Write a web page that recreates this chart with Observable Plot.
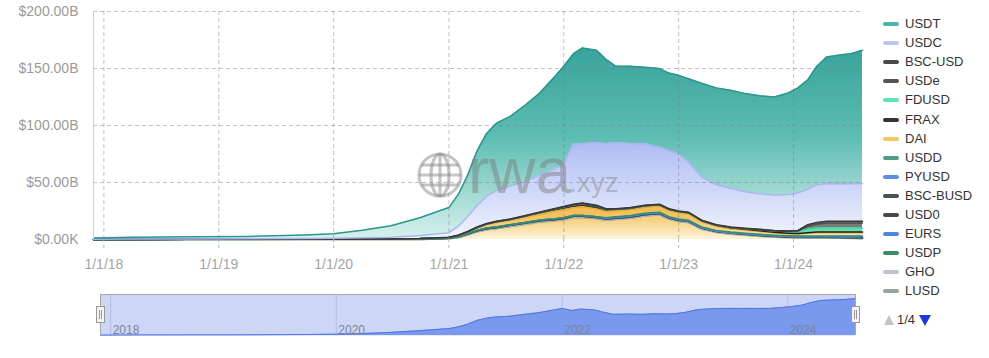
<!DOCTYPE html>
<html>
<head>
<meta charset="utf-8">
<script src="https://cdn.jsdelivr.net/npm/d3@7"></script>
<script src="https://cdn.jsdelivr.net/npm/@observablehq/plot@0.6"></script>
<style>
  html,body{margin:0;padding:0;background:#fff;}
  #wrap{position:relative;width:989px;height:358px;overflow:hidden;font-family:"Liberation Sans",Arial,Helvetica,sans-serif;}
  #main{position:absolute;left:0;top:0;}
  #nav{position:absolute;left:0;top:288px;}
  #wm{position:absolute;left:0;top:0;pointer-events:none;}
  .item{position:absolute;left:883px;height:16px;font-size:13px;color:#333;line-height:16px;white-space:nowrap;}
  .sym{position:absolute;left:0;top:6px;width:16px;height:4px;border-radius:2px;}
  .lab{position:absolute;left:22px;top:0;}
  .handle{position:absolute;}
  #pager{position:absolute;left:884px;top:312px;height:16px;font-size:13px;color:#333;line-height:16px;}
  .up{position:absolute;left:0;top:3px;width:0;height:0;border-left:5px solid transparent;border-right:5px solid transparent;border-bottom:10px solid #c4c4c4;}
  .pg{position:absolute;left:13px;top:0;}
  .down{position:absolute;left:35px;top:3px;width:0;height:0;border-left:6px solid transparent;border-right:6px solid transparent;border-top:11px solid #1b3ad6;}
</style>
</head>
<body>
<svg width="0" height="0" style="position:absolute"><defs id="defs"></defs></svg>
<div id="wrap">
  <div id="main"></div>
  <div id="nav"></div>
  <svg id="wm" width="989" height="358"></svg>
  <div id="legend"></div>
</div>
<script>
// ---------------- data (values in billions of USD) ----------------
const dates = ["2017-11-29","2018-04-01","2018-10-01","2019-04-01","2019-10-01","2020-01-01","2020-04-01","2020-07-01","2020-10-01",
  "2021-01-01","2021-02-01","2021-03-01","2021-04-01","2021-05-01","2021-06-01","2021-07-15","2021-09-01","2021-10-15","2021-12-01",
  "2022-01-01","2022-02-01","2022-03-01","2022-04-15","2022-05-15","2022-06-15","2022-08-01","2022-09-15","2022-11-01","2022-12-01",
  "2023-01-01","2023-02-01","2023-03-15","2023-05-01","2023-06-15","2023-08-01","2023-09-15","2023-11-01","2023-12-15",
  "2024-01-15","2024-02-15","2024-03-15","2024-04-15","2024-06-01","2024-07-01","2024-08-07"];

const usdt = [1.0,1.6,1.8,2.0,3.2,4.0,6.5,10,15.5,22,28,36,48,55,59,61,67,72,80,86,79,84,81,74,67,68,67,69,68,69,73,82,85,86,86,86,86,89,92,96,104,111,113,114,117];
const usdc = [0.2,0.3,0.4,0.5,0.6,0.8,1.2,1.6,2.7,4,8,13,19,24,27,29,30,32,35,37,53,52,55,57,58,56,54,50,51,50,44,38,35,34,32,31,31,32,33,31,33,33,33,33,33];
const bscUsd = [0,0,0,0,0,0,0,0,0,0.2,0.5,0.5,0.5,0.5,0.5,0.5,0.5,0.5,0.5,0.5,0.5,0.5,0.5,0.5,0.5,0.5,0.5,0.5,0.5,0.5,0.5,0.5,0.5,0.5,0.5,0.5,0.5,0.5,0.5,1.5,1.5,1.5,1.5,1.5,1.5];
const usde = [0,0,0,0,0,0,0,0,0,0,0,0,0,0,0,0,0,0,0,0,0,0,0,0,0,0,0,0,0,0,0,0,0,0,0,0,0,0,0,2.5,3.5,4.5,4.5,4.5,4.5];
const fdusd = [0,0,0,0,0,0,0,0,0,0,0,0,0,0,0,0,0,0,0,0,0,0,0,0,0,0,0,0,0,0,0,0,0,0.3,0.5,0.8,1.2,1.5,2.3,3.0,3.5,3.5,3.5,3.5,3.5];
const frax = [0,0,0,0,0,0,0,0,0,0.1,0.2,0.3,0.4,0.5,0.6,0.7,1.0,1.5,2.0,2.4,2.6,2.8,2.8,2.0,1.5,1.4,1.4,1.2,1.1,1.0,1.0,1.0,1.0,0.9,0.8,0.7,0.7,0.6,0.6,0.6,0.6,0.6,0.6,0.6,0.6];
const dai = [0,0,0,0,0.05,0.05,0.07,0.1,0.4,0.5,0.8,1.2,2.1,3.0,3.9,3.8,4.5,5.0,6.5,7.1,6.9,7.7,6.7,5.5,5.0,5.1,5.1,5.3,5.4,5.5,5.5,4.5,3.5,2.8,2.7,2.5,1.8,1.7,1.6,2.4,2.9,2.9,2.9,2.9,2.9];
const usdd = [0,0,0,0,0,0,0,0,0,0,0,0,0,0,0,0,0,0,0,0,0,0,0,0.5,0.7,0.7,0.7,0.7,0.7,0.7,0.7,0.7,0.7,0.7,0.7,0.7,0.7,0.7,0.7,0.7,0.7,0.7,0.7,0.7,0.7];
const pyusd = [0,0,0,0,0,0,0,0,0,0,0,0,0,0,0,0,0,0,0,0,0,0,0,0,0,0,0,0,0,0,0,0,0,0,0.05,0.1,0.15,0.2,0.3,0.3,0.3,0.35,0.4,0.45,0.5];
const bscBusd = [0,0,0,0,0,0,0,0,0,0.1,0.2,0.3,0.4,0.5,0.5,0.5,0.6,0.6,0.6,0.6,0.6,0.6,0.6,0.6,0.6,0.6,0.6,0.6,0.5,0.5,0.4,0.3,0.3,0.2,0.2,0.2,0.15,0.1,0.1,0.1,0.1,0.1,0.1,0.1,0.1];
const usd0 = [0,0,0,0,0,0,0,0,0,0,0,0,0,0,0,0,0,0,0,0,0,0,0,0,0,0,0,0,0,0,0,0,0,0,0,0,0,0,0,0,0,0,0.1,0.3,0.5];
const eurs = [0,0,0.02,0.02,0.02,0.02,0.02,0.02,0.02,0.1,0.1,0.1,0.1,0.1,0.1,0.1,0.1,0.1,0.1,0.1,0.1,0.1,0.1,0.1,0.1,0.1,0.1,0.1,0.1,0.1,0.1,0.1,0.1,0.1,0.1,0.1,0.1,0.1,0.1,0.1,0.1,0.1,0.1,0.1,0.1];
const usdp = [0,0.02,0.05,0.08,0.1,0.1,0.15,0.2,0.3,0.4,0.5,0.6,0.7,0.8,0.8,0.9,0.9,0.9,0.9,0.9,0.9,0.9,0.9,0.9,0.9,0.9,0.9,0.9,0.8,0.8,0.8,0.7,0.6,0.5,0.4,0.4,0.4,0.3,0.3,0.2,0.2,0.2,0.2,0.2,0.2];
const gho = [0,0,0,0,0,0,0,0,0,0,0,0,0,0,0,0,0,0,0,0,0,0,0,0,0,0,0,0,0,0,0,0,0,0,0.02,0.03,0.04,0.04,0.05,0.06,0.07,0.08,0.1,0.1,0.12];
const lusd = [0,0,0,0,0,0,0,0,0,0,0,0,0.1,0.3,0.5,0.6,0.6,0.7,0.7,0.7,0.7,0.7,0.6,0.5,0.4,0.3,0.3,0.3,0.3,0.3,0.3,0.3,0.3,0.3,0.3,0.3,0.25,0.2,0.2,0.15,0.15,0.1,0.1,0.1,0.1];
// stablecoins listed on legend pages 2–4 (not shown on page 1), combined
const other = [0.1,0.08,0.05,0.02,0.05,0.05,0.08,0.1,0.1,0.6,1.7,4.0,6.7,8.3,9.1,10.9,12.8,14.7,15.7,16.7,18.7,18.7,17.8,16.4,17.3,18.4,20.4,21.4,17.6,15.6,14.7,8.9,6.0,4.7,3.7,2.7,2.0,1.6,1.25,1.4,1.4,1.4,1.2,0.95,0.7];

const legendNames = ["USDT","USDC","BSC-USD","USDe","FDUSD","FRAX","DAI","USDD","PYUSD","BSC-BUSD","USD0","EURS","USDP","GHO","LUSD"];
const seriesValues = [usdt,usdc,bscUsd,usde,fdusd,frax,dai,usdd,pyusd,bscBusd,usd0,eurs,usdp,gho,lusd];

const yTicks = [0,50,100,150,200];
const yTickLabels = ["$0.00K","$50.00B","$100.00B","$150.00B","$200.00B"];
const xTickDates = ["2018-01-01","2019-01-01","2020-01-01","2021-01-01","2022-01-01","2023-01-01","2024-01-01"];
const xTickLabels = ["1/1/18","1/1/19","1/1/20","1/1/21","1/1/22","1/1/23","1/1/24"];
const navTickDates = ["2018-01-01","2020-01-01","2022-01-01","2024-01-01"];
const navTickLabels = ["2018","2020","2022","2024"];
const pagerText = "1/4";

// ---------------- styles ----------------
const FONT = '"Liberation Sans", Arial, Helvetica, sans-serif';
const fillOf = {
  "USDT":"url(#gUSDT)","USDC":"url(#gUSDC)","BSC-USD":"#6c6c6c","USDe":"#7a7a7a","FDUSD":"#5fdfb0","FRAX":"#3b3b3b",
  "DAI":"url(#gOrange)","USDD":"#4c9f86","PYUSD":"#7fa2ec","BSC-BUSD":"#55605b","USD0":"#5a605e","EURS":"#6f9ae6",
  "USDP":"#4e9a75","GHO":"#c8c8d4","LUSD":"#a5b2ae","Other":"url(#gOrange2)"
};
const lineOf = {
  "USDT":"#2b978e","USDC":"#a8b6f0","BSC-USD":"#3a3a3a","USDe":"#4a4a4a","FDUSD":"#40d6a0","FRAX":"#222222",
  "DAI":"#e8ac3a","USDD":"#2f8f6c","PYUSD":"#5b86e5","BSC-BUSD":"#39443f","USD0":"#3a3f3d","EURS":"#4a88e0",
  "USDP":"#2e8a5e","GHO":"#b0b0c0","LUSD":"#8a9a95","Other":"#f2c35c"
};
const legendColor = {
  "USDT":"#4cb5aa","USDC":"#bac6f3","BSC-USD":"#4a4a4a","USDe":"#555555","FDUSD":"#5fe3b3","FRAX":"#333333",
  "DAI":"#f7c566","USDD":"#4f9d88","PYUSD":"#5d8de6","BSC-BUSD":"#48524e","USD0":"#454a48","EURS":"#4a88e0",
  "USDP":"#3b8b63","GHO":"#c2c2ce","LUSD":"#97a39f"
};

// gradients
const grads = {
  gUSDT: [[0,"#2a9991"],[0.55,"#5dbcb3"],[1,"#d8f1ee"]],
  gUSDC: [[0,"#9aaaf0"],[0.55,"#abb9f3"],[1,"#f1f4fe"]],
  gOrange: [[0.8,"#f1b241"],[0.92,"#f6c768"],[1,"#fcecc4"]],
  gOrange2: [[0.8,"#f5c45e"],[0.92,"#f8d386"],[1,"#fdf3da"]]
};
const defs = d3.select("#defs");
for (const [id, stops] of Object.entries(grads)) {
  const g = defs.append("linearGradient").attr("id", id).attr("gradientUnits","userSpaceOnUse")
    .attr("x1",0).attr("x2",0).attr("y1",11).attr("y2",239);
  for (const [o,c] of stops) g.append("stop").attr("offset",o).attr("stop-color",c);
}

// ---------------- build rows ----------------
const allSeries = legendNames.map((n,i) => [n, seriesValues[i]]).concat([["Other", other]]);
for (const [n, v] of allSeries) if (v.length !== dates.length) throw new Error("length mismatch " + n);
const bottomUp = allSeries.slice().reverse();
const rows = bottomUp.flatMap(([name, vals]) => vals.map((v,i) => ({date: new Date(dates[i]), name, value: v})));
const usdtRows = usdt.map((v,i) => ({date: new Date(dates[i]), value: v}));

const xDomain = [new Date(dates[0]), new Date(dates[dates.length-1])];
const xTicks = xTickDates.map(d => new Date(d));
const navTicks = navTickDates.map(d => new Date(d));

// ---------------- main chart ----------------
const main = Plot.plot({
  width: 870, height: 280,
  marginLeft: 93, marginRight: 8, marginTop: 11, marginBottom: 41,
  style: {fontFamily: FONT, fontSize: "14px", background: "transparent", overflow: "visible"},
  x: {type: "utc", domain: xDomain, label: null},
  y: {domain: [0, 200], label: null},
  color: {type: "identity"},
  marks: [
    Plot.areaY(rows, Plot.stackY({x: "date", y: "value", z: "name", fill: d => fillOf[d.name]})),
    Plot.lineY(rows, Plot.stackY2({x: "date", y: "value", z: "name", stroke: d => lineOf[d.name], strokeWidth: 1.5})),
    Plot.ruleY(yTicks.slice(1), {stroke: "#7a7a7a", strokeOpacity: 0.45, strokeDasharray: "4,3"}),
    Plot.ruleX(xTicks, {stroke: "#7a7a7a", strokeOpacity: 0.45, strokeDasharray: "4,3"}),
    Plot.ruleX([xDomain[0]], {stroke: "#cfcfcf"}),
    Plot.axisY({ticks: yTicks, tickSize: 0, tickPadding: 15, label: null,
      tickFormat: d => yTickLabels[yTicks.indexOf(d)], fill: "#9a9a9a", fontSize: 14}),
    Plot.axisX({ticks: xTicks, tickSize: 9, tickPadding: 11, label: null,
      tickFormat: d => xTickLabels[xTicks.findIndex(t => +t === +d)],
      stroke: "#b5b5b5", strokeDasharray: "3,3", fill: "#a5a5a5", fontSize: 14})
  ]
});
document.getElementById("main").appendChild(main);

// ---------------- navigator ----------------
const nav = Plot.plot({
  width: 870, height: 50,
  marginLeft: 100, marginRight: 15, marginTop: 6, marginBottom: 3,
  style: {fontFamily: FONT, background: "transparent", overflow: "visible"},
  x: {type: "utc", domain: xDomain, axis: null},
  y: {domain: [0, 130], axis: null},
  marks: [
    Plot.frame({fill: "#ced6f6", stroke: "none"}),
    Plot.ruleX(navTicks, {stroke: "#b4bde3"}),
    Plot.areaY(usdtRows, {x: "date", y: "value", fill: "#7a98ee"}),
    Plot.lineY(usdtRows, {x: "date", y: "value", stroke: "#4f76e2", strokeWidth: 1}),
    Plot.text(navTicks, {x: d => d, frameAnchor: "bottom", dy: -2, dx: 2, textAnchor: "start",
      text: d => navTickLabels[navTicks.indexOf(d)], fill: "#7d8596", fontSize: 12}),
    Plot.ruleY([130], {stroke: "#a8a8a8"}),
    Plot.ruleX([xDomain[0], xDomain[1]], {stroke: "#a8a8a8"})
  ]
});
document.getElementById("nav").appendChild(nav);

// navigator handles
const wrap = document.getElementById("wrap");
for (const left of [96, 851]) {
  const h = document.createElement("div");
  h.className = "handle";
  h.style.left = left + "px"; h.style.top = "306px";
  h.innerHTML = '<svg width="9" height="17"><rect x="0.5" y="0.5" width="8" height="16" fill="#f4f4f4" stroke="#999"/>' +
    '<line x1="3.5" y1="4" x2="3.5" y2="13" stroke="#999"/><line x1="5.5" y1="4" x2="5.5" y2="13" stroke="#999"/></svg>';
  wrap.appendChild(h);
}

// ---------------- watermark ----------------
const wm = d3.select("#wm");
const gc = wm.append("g").attr("fill","none").attr("stroke","rgba(140,140,140,0.5)").attr("stroke-width",3.2);
const cx = 440, cy = 175, r = 21;
gc.append("circle").attr("cx",cx).attr("cy",cy).attr("r",r);
gc.append("ellipse").attr("cx",cx).attr("cy",cy).attr("rx",9).attr("ry",r);
gc.append("line").attr("x1",cx).attr("x2",cx).attr("y1",cy-r).attr("y2",cy+r);
for (const dy of [-10, 0, 10]) {
  const half = Math.sqrt(r*r - dy*dy);
  gc.append("line").attr("x1",cx-half).attr("x2",cx+half).attr("y1",cy+dy).attr("y2",cy+dy);
}
wm.append("text").attr("x",468).attr("y",193).attr("font-family",FONT).attr("font-size",64)
  .attr("fill","rgba(120,120,120,0.45)").text("rwa");
wm.append("text").attr("x",569).attr("y",192).attr("font-family",FONT).attr("font-size",28)
  .attr("fill","rgba(120,120,120,0.4)").text(".xyz");

// ---------------- legend ----------------
const legend = document.getElementById("legend");
legendNames.forEach((n, i) => {
  const it = document.createElement("div");
  it.className = "item";
  it.style.top = (24 + i * 19.1 - 8) + "px";
  it.innerHTML = `<div class="sym" style="background:${legendColor[n]}"></div><div class="lab">${n}</div>`;
  legend.appendChild(it);
});
const pager = document.createElement("div");
pager.id = "pager";
pager.innerHTML = `<div class="up"></div><div class="pg">${pagerText}</div><div class="down"></div>`;
legend.appendChild(pager);
</script>
</body>
</html>
